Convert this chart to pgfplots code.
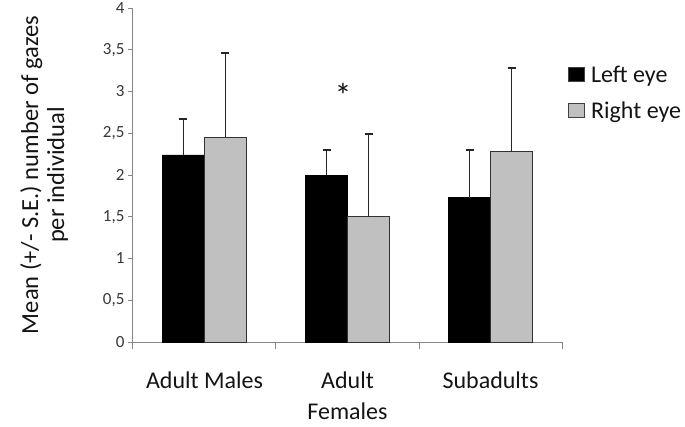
\documentclass[border=0pt]{standalone}
\usepackage{fontspec}
\setmainfont{Carlito}
\usepackage{pgfplots}
\pgfplotsset{compat=1.18}

\definecolor{axisgray}{RGB}{134,134,134}
\definecolor{barlight}{RGB}{192,192,192}
\definecolor{txt}{RGB}{20,20,20}

\begin{document}
\begin{tikzpicture}[x=1pt,y=1pt]
\begin{axis}[
    name=ax,
    at={(0,0)}, anchor=south west,
    scale only axis,
    width=429pt, height=334pt,
    ybar=0pt, bar width=42pt,
    xmin=-0.5, xmax=2.5,
    ymin=0, ymax=4,
    axis x line*=bottom,
    axis y line*=left,
    axis line style={axisgray, line width=1pt},
    xtick={0,1,2},
    xticklabels={Adult Males, {Adult\\Females}, Subadults},
    xticklabel style={align=center, font=\fontsize{24}{31}\selectfont, text=txt, yshift=-21pt},
    major x tick style={draw=none},
    minor xtick={-0.5,0.5,1.5,2.5},
    minor x tick style={axisgray, line width=1pt},
    minor tick length=7pt,
    ytick={0,0.5,...,4},
    yticklabel style={font=\fontsize{17}{20}\selectfont, text=txt!85},
    major y tick style={axisgray, line width=1pt},
    major tick length=5pt,
    tick align=outside,
    /pgf/number format/use comma,
    /pgf/number format/assume math mode=true,
    ylabel={Mean (+/- S.E.) number of gazes\\per individual},
    ylabel style={at={(axis description cs:-0.207,0.5)}, anchor=center, align=center, font=\fontsize{24.5}{26}\selectfont, text=txt},
    legend style={draw=none, fill=none, at={(1.007,0.84)}, anchor=north west,
        font=\fontsize{24}{26}\selectfont, text=txt, row sep=14pt, column sep=4pt},
    legend cell align=left,
    sq legend/.style={legend image code/.code={\draw[##1, draw=black!75, line width=0.9pt] (0pt,-7pt) rectangle (16pt,7pt);}},
    error bars/y dir=plus,
    error bars/y explicit,
    error bars/error bar style={black!85, line width=1.5pt},
    error bars/error mark options={black!85, line width=1.5pt, mark size=4pt, rotate=90},
]
\addplot[fill=black, draw=black, line width=0.9pt, sq legend]
    coordinates {(0,2.24) +- (0,0.43) (1,2.00) +- (0,0.30) (2,1.73) +- (0,0.57)};
\addplot[fill=barlight, draw=black!80, line width=0.9pt, sq legend]
    coordinates {(0,2.45) +- (0,1.01) (1,1.50) +- (0,0.99) (2,2.28) +- (0,1.00)};
\legend{Left eye, Right eye}
\node[font=\fontsize{34}{34}\selectfont, text=txt] at (axis cs:0.97,2.95) {*};
\end{axis}
\pgfresetboundingbox
\path[use as bounding box] (-133pt,-84pt) rectangle (552pt,342pt);
\end{tikzpicture}
\end{document}
